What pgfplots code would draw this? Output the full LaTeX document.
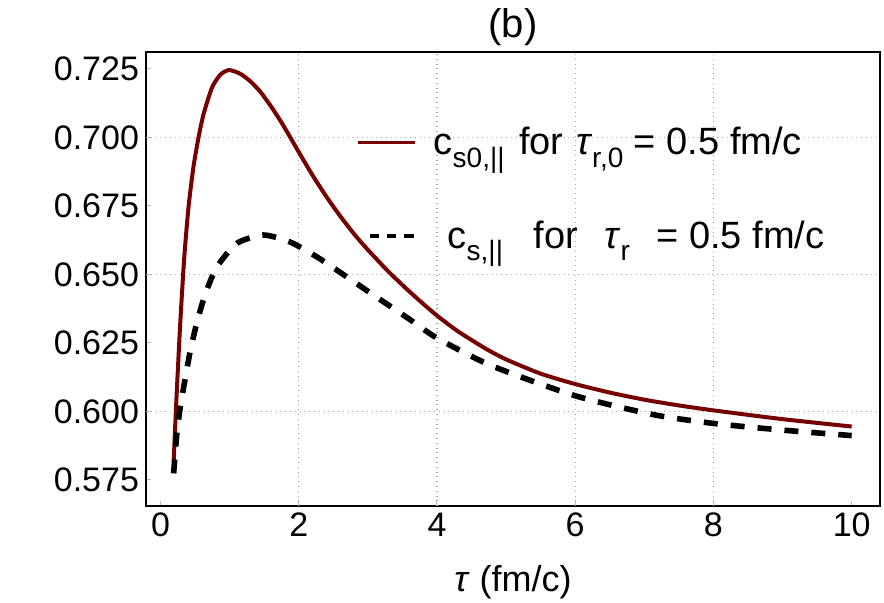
\documentclass[border=0pt]{standalone}
\usepackage{fontspec}
\setmainfont{Liberation Sans}
\usepackage{pgfplots}
\pgfplotsset{compat=1.18}
\definecolor{darkred}{RGB}{118,0,0}
% lowered subscript used in the legend entries
\newcommand{\lsub}[1]{\raisebox{-0.33em}{\fontsize{14}{14}\selectfont #1}}

\begin{document}
\begin{tikzpicture}
\begin{axis}[
  scale only axis,
  width=367pt, height=227pt,
  xmin=-0.21, xmax=10.41,
  ymin=0.5655, ymax=0.7312,
  xtick={0,2,4,6,8,10},
  ytick={0.575,0.600,0.625,0.650,0.675,0.700,0.725},
  yticklabel style={/pgf/number format/.cd, fixed, fixed zerofill, precision=3},
  /pgf/number format/assume math mode=true,
  ticklabel style={font=\fontsize{17}{20}\selectfont},
  tick pos=left,
  tick align=inside,
  major tick length=2.6pt,
  tick style={gray!55, line width=0.5pt},
  axis line style={line width=1.4pt},
  % dotted guide lines only at selected values
  extra x ticks={2,4,6,8},
  extra x tick labels={},
  extra y ticks={0.600,0.650,0.700},
  extra y tick labels={},
  extra tick style={grid=major, major tick length=0pt},
  grid style={dotted, gray!70, line width=0.6pt},
  title={(b)},
  title style={at={(axis description cs:0.5,1)}, anchor=base, yshift=1pt,
    font=\fontsize{20}{22}\selectfont},
  xlabel={\textit{τ} (fm/c)},
  xlabel style={at={(axis description cs:0.5,0)}, anchor=center, yshift=-38pt,
    font=\fontsize{18}{20}\selectfont},
  legend style={draw=none, fill=none, at={(axis description cs:0.277,0.853)},
    anchor=north west, font=\fontsize{19}{21}\selectfont,
    row sep=27.5pt, legend cell align=left,
    nodes={inner xsep=2pt}},
]
\addplot[darkred, line width=2pt, smooth, tension=0.4,
  legend image code/.code={\draw[darkred, line width=1.8pt] (-3pt,0pt) -- (25.5pt,0pt);}]
  table {
x y
0.19 0.5815
0.213 0.5950
0.237 0.6080
0.285 0.6320
0.343 0.6560
0.406 0.6748
0.478 0.6895
0.55 0.7000
0.623 0.7085
0.745 0.7182
0.865 0.7229
0.99 0.7246
1.15 0.7233
1.30 0.7205
1.45 0.7165
1.60 0.7113
1.75 0.7055
1.874 0.7002
2.0 0.6947
2.2 0.6862
2.4 0.6784
2.6 0.6713
2.8 0.6648
3.0 0.6590
3.3 0.6510
3.6 0.6438
3.8 0.6393
4.0 0.6350
4.3 0.6293
4.7 0.6230
5.0 0.6190
5.5 0.6138
6.0 0.6100
6.5 0.6069
7.0 0.6043
7.5 0.6022
8.0 0.6004
9.0 0.5972
10.0 0.5945
};
\addlegendentry{\hspace{5pt}c\lsub{s0,||} \hspace{2pt}for \hspace{1pt}\textit{τ}\lsub{r,0} = 0.5 fm/c}

\addplot[black, line width=2.8pt, dash pattern=on 7pt off 6.5pt, smooth, tension=0.4,
  legend image code/.code={\draw[black, line width=2.2pt, dash pattern=on 4.7pt off 4pt] (3pt,0pt) -- (27pt,0pt);}]
  table {
x y
0.19 0.5774
0.235 0.5915
0.285 0.6015
0.358 0.6121
0.43 0.6220
0.527 0.6325
0.648 0.6429
0.817 0.6528
1.107 0.6614
1.49 0.6644
1.88 0.6618
2.27 0.6563
2.65 0.6499
3.04 0.6432
3.60 0.6337
4.00 0.6268
4.78 0.6168
5.99 0.6058
7.14 0.5988
8.01 0.5956
9.00 0.5932
10.00 0.5912
};
\addlegendentry{\hspace{12pt}c\lsub{s,||}\hspace{10pt} for\hspace{8pt} \textit{τ}\lsub{r}\hspace{8pt} = 0.5 fm/c}
\end{axis}
\pgfresetboundingbox
\path[use as bounding box] ([xshift=-73pt,yshift=-48.5pt]current axis.south west)
  rectangle ([xshift=2pt,yshift=26pt]current axis.north east);
\end{tikzpicture}
\end{document}
